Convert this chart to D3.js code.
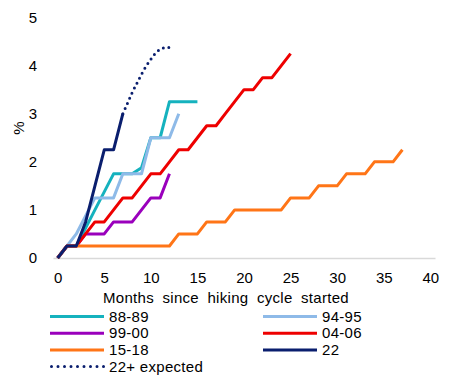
<!DOCTYPE html>
<html>
<head>
<meta charset="utf-8">
<script src="https://cdn.jsdelivr.net/npm/d3@7"></script>
<style>
  body { margin: 0; background: #fff; }
  text { font-family: "Liberation Sans", Arial, sans-serif; fill: #000; }
</style>
</head>
<body>
<svg id="chart"></svg>
<script>
const width = 455;
const height = 375;

// values by month since the first hike (index = month)
const c8889 = [0, 0.25, 0.25, 0.625, 1.0, 1.375, 1.75, 1.75, 1.75, 1.875, 2.5, 2.5, 3.25, 3.25, 3.25, 3.25];
const c9495 = [0, 0.25, 0.5, 0.875, 1.25, 1.25, 1.25, 1.75, 1.75, 1.75, 2.5, 2.5, 2.5, 3.0];
const c9900 = [0, 0.25, 0.25, 0.5, 0.5, 0.5, 0.75, 0.75, 0.75, 1.0, 1.25, 1.25, 1.75];
const c0406 = [0, 0.25, 0.25, 0.5, 0.75, 0.75, 1.0, 1.25, 1.25, 1.5, 1.75, 1.75, 2.0, 2.25, 2.25,
               2.5, 2.75, 2.75, 3.0, 3.25, 3.5, 3.5, 3.75, 3.75, 4.0, 4.25];
const c1518 = [0, 0.25, 0.25, 0.25, 0.25, 0.25, 0.25, 0.25, 0.25, 0.25, 0.25, 0.25, 0.25,
               0.5, 0.5, 0.5, 0.75, 0.75, 0.75, 1.0, 1.0, 1.0, 1.0, 1.0, 1.0,
               1.25, 1.25, 1.25, 1.5, 1.5, 1.5, 1.75, 1.75, 1.75, 2.0, 2.0, 2.0, 2.25];
const c22 = [0, 0.25, 0.25, 0.75, 1.5, 2.25, 2.25, 3.0];

// market-implied path after month 7
const expMonths = [7, 7.5, 8, 8.5, 9, 9.5, 10, 10.5, 11, 11.5, 12, 12.4];
const expValues = [3.0, 3.22, 3.44, 3.63, 3.82, 3.99, 4.13, 4.26, 4.34, 4.37, 4.38, 4.39];

const xTicks = [0, 5, 10, 15, 20, 25, 30, 35, 40];
const yTicks = [0, 1, 2, 3, 4, 5];

const series = [
    { name: "88-89", values: c8889, color: "#15B2BE" },
    { name: "94-95", values: c9495, color: "#8EBAE8" },
    { name: "99-00", values: c9900, color: "#9A00BC" },
    { name: "04-06", values: c0406, color: "#EE0000" },
    { name: "15-18", values: c1518, color: "#FF7517" },
    { name: "22", values: c22, color: "#0A1E6E" }
];

const svg = d3.select("#chart")
    .attr("width", width)
    .attr("height", height);

const x = d3.scaleLinear()
    .domain([-0.5, 40.5])
    .range([53, 435]);

const y = d3.scaleLinear()
    .domain([0, 5])
    .range([258, 17.5]);

// x axis
const xAxis = svg.append("g")
    .attr("transform", `translate(0, ${y(0)})`)
    .call(d3.axisBottom(x).tickValues(xTicks).tickSize(0).tickPadding(14));
xAxis.select(".domain").attr("stroke", "#D9D9D9").attr("stroke-width", 1.5);
xAxis.selectAll("text").style("font-size", "15px").attr("font-family", null);

// y axis
const yAxis = svg.append("g")
    .attr("transform", `translate(53, 0)`)
    .call(d3.axisLeft(y).tickValues(yTicks).tickFormat(d3.format("d")).tickSize(0).tickPadding(16));
yAxis.select(".domain").remove();
yAxis.selectAll("text").style("font-size", "15px").attr("font-family", null);

svg.append("text")
    .attr("transform", "rotate(-90)")
    .attr("x", -128)
    .attr("y", 19)
    .attr("dy", "0.35em")
    .attr("text-anchor", "middle")
    .style("font-size", "15px")
    .text("%");

svg.append("text")
    .attr("x", 226)
    .attr("y", 298)
    .attr("dy", "0.35em")
    .attr("text-anchor", "middle")
    .style("font-size", "15px")
    .style("word-spacing", "4px")
    .style("letter-spacing", "0.3px")
    .text("Months since hiking cycle started");

const line = d3.line()
    .x((d, i) => x(i))
    .y(d => y(d));

svg.selectAll("path.series")
    .data(series)
    .enter().append("path")
    .attr("class", "series")
    .attr("d", d => line(d.values))
    .attr("fill", "none")
    .attr("stroke", d => d.color)
    .attr("stroke-width", 3)
    .attr("stroke-linejoin", "round");

const expLine = d3.line()
    .x((d, i) => x(expMonths[i]))
    .y(d => y(d))
    .curve(d3.curveMonotoneX);

svg.append("path")
    .attr("d", expLine(expValues))
    .attr("fill", "none")
    .attr("stroke", "#0A1E6E")
    .attr("stroke-width", 3)
    .attr("stroke-linecap", "round")
    .attr("stroke-dasharray", "0,5.6");

// legend
const legendItems = series.map(d => ({ name: d.name, color: d.color, dotted: false }))
    .concat([{ name: "22+ expected", color: "#0A1E6E", dotted: true }]);

const legend = svg.append("g");
legendItems.forEach((d, i) => {
    const col = i % 2;
    const row = Math.floor(i / 2);
    const lx = col === 0 ? 50 : 263;
    const ly = 316.5 + row * 16.7;
    legend.append("line")
        .attr("x1", lx + (d.dotted ? 1.5 : 0))
        .attr("x2", lx + 54)
        .attr("y1", ly)
        .attr("y2", ly)
        .attr("stroke", d.color)
        .attr("stroke-width", 3)
        .attr("stroke-linecap", d.dotted ? "round" : "butt")
        .attr("stroke-dasharray", d.dotted ? "0,6.5" : null);
    legend.append("text")
        .attr("x", lx + 59)
        .attr("y", ly)
        .attr("dy", "0.35em")
        .style("font-size", "15px")
        .style("letter-spacing", "0.3px")
        .text(d.name);
});
</script>
</body>
</html>
